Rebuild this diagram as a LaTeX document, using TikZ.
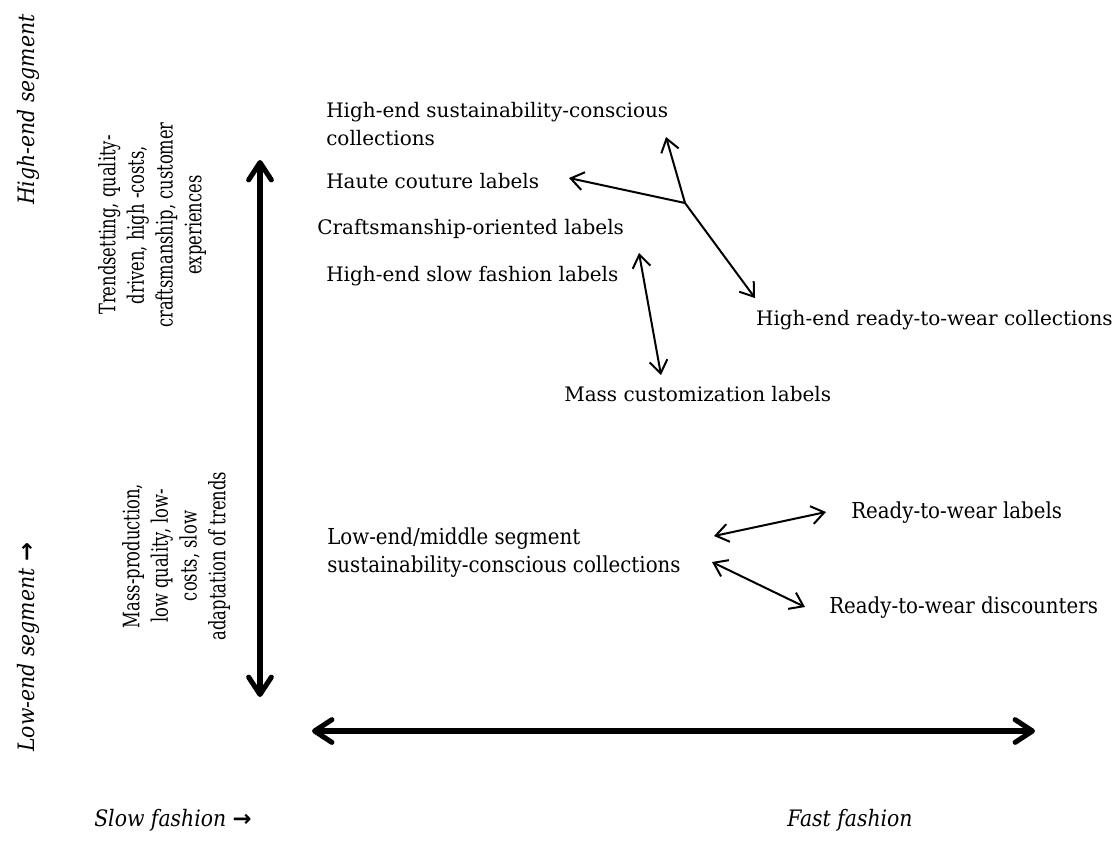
\documentclass[tikz,border=0pt]{standalone}
\usepackage{fontspec}
\setmainfont{DejaVu Serif}
\newfontfamily\condfont{DejaVu Serif}[FakeStretch=0.9]
\newfontfamily\narrowfont{DejaVu Serif}[FakeStretch=0.72]
\newfontfamily\arrowfont{DejaVu Sans}
\newcommand{\rarr}{{\upshape\bfseries\arrowfont →}}
\usetikzlibrary{arrows.meta}
\begin{document}
\begin{tikzpicture}[x=0.75pt,y=-0.75pt,
  lbl/.style={font=\fontsize{15}{21}\selectfont, inner sep=0pt, align=left, anchor=west},
  clbl/.style={font=\condfont\fontsize{16.5}{21}\selectfont, inner sep=0pt, align=left, anchor=west},
  rlbl/.style={font=\narrowfont\fontsize{17}{21.5}\selectfont, inner sep=0pt, align=center, rotate=90},
  ilbl/.style={font=\condfont\itshape\fontsize{17}{21}\selectfont, inner sep=0pt},
  thinarr/.style={line width=1.5pt, -{Straight Barb[length=9.5pt,width=13.5pt]}},
  thinboth/.style={line width=1.5pt, {Straight Barb[length=9.5pt,width=13.5pt]}-{Straight Barb[length=9.5pt,width=13.5pt]}},
  thickboth/.style={line width=3.8pt, {Straight Barb[length=13pt,width=17pt,round]}-{Straight Barb[length=13pt,width=17pt,round]}}
]
\useasboundingbox (0,0) rectangle (1119,840);

% axis titles
\node[ilbl, rotate=90, anchor=east] (hiseg) at (28,14) {High-end segment};
\node[ilbl, rotate=90, anchor=west] (loseg) at (28,752) {Low-end segment \rarr};
\node[ilbl, anchor=east] (slow) at (252,820) {Slow fashion \rarr};
\node[ilbl, anchor=west] (fast) at (787,820) {Fast fashion};

% rotated descriptions
\node[rlbl] (hidesc) at (152,225) {Trendsetting, quality-\\driven, high -costs,\\craftsmanship, customer\\experiences};
\node[rlbl] (lodesc) at (176,556) {Mass-production,\\low quality, low-\\costs, slow\\adaptation of trends};

% axes
\coordinate (vtop) at (260,160);
\coordinate (vbot) at (260,697);
\coordinate (hl) at (312,731);
\coordinate (hr) at (1035,731);
\draw[thickboth] (vtop) -- (vbot);
\draw[thickboth] (hl) -- (hr);

% labels
\node[lbl] (hsc) at (326,124) {High-end sustainability-conscious\\collections};
\node[lbl] (haute) at (326,181) {Haute couture labels};
\node[lbl] (craft) at (317,229) {Craftsmanship-oriented labels};
\node[lbl] (hslow) at (326,276) {High-end slow fashion labels};
\node[lbl, anchor=east] (hrtw) at (1113,320) {High-end ready-to-wear collections};
\node[lbl] (mass) at (564,394) {Mass customization labels};
\node[clbl] (lowmid) at (327,553) {Low-end/middle segment\\sustainability-conscious collections};
\node[clbl] (rtwl) at (851,513) {Ready-to-wear labels};
\node[clbl] (rtwd) at (829,608) {Ready-to-wear discounters};

% connectors
\coordinate (J) at (685,203);
\coordinate (jt) at (666,137);
\coordinate (jl) at (569,178);
\coordinate (jr) at (755,298);
\draw[thinarr] (J) -- (jt);
\draw[thinarr] (J) -- (jl);
\draw[thinarr] (J) -- (jr);

\coordinate (ma) at (639,253);
\coordinate (mb) at (661,375);
\draw[thinboth] (ma) -- (mb);

\coordinate (la) at (714,536);
\coordinate (lb) at (826,512);
\draw[thinboth] (la) -- (lb);

\coordinate (da) at (712,562);
\coordinate (db) at (805,607);
\draw[thinboth] (da) -- (db);
\end{tikzpicture}
\end{document}
